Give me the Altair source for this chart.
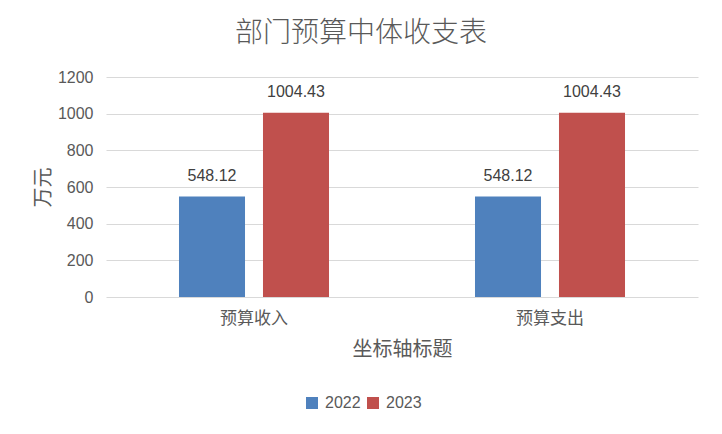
import altair as alt
import pandas as pd

categories = ["预算收入", "预算收入", "预算支出", "预算支出"]
years = ["2022", "2023", "2022", "2023"]
values = [548.12, 1004.43, 548.12, 1004.43]
labels = ["548.12", "1004.43", "548.12", "1004.43"]
y_ticks = [0, 200, 400, 600, 800, 1000, 1200]

df = pd.DataFrame({"cat": categories, "year": years, "value": values, "label": labels})

FONT = "Liberation Sans, Noto Sans CJK SC"
CJK = "Noto Sans CJK SC"
TXT = "#595959"

x_enc = alt.X("cat:N", sort=["预算收入", "预算支出"],
              scale=alt.Scale(paddingInner=0, paddingOuter=0),
              axis=alt.Axis(title="坐标轴标题", labelAngle=0, ticks=False, domain=False,
                            grid=False, labelFont=CJK, labelFontSize=17, labelColor=TXT,
                            labelPadding=13, titleFont=CJK, titleFontSize=20,
                            titleFontWeight="normal", titleColor=TXT, titleY=42,
                            titleBaseline="top"))
xoff = alt.XOffset("year:N", scale=alt.Scale(paddingInner=0.214, paddingOuter=0.869))

y_enc = alt.Y("value:Q", scale=alt.Scale(domain=[0, 1200]),
              axis=alt.Axis(title="万元", values=y_ticks, format="d", labelOverlap=False,
                            ticks=False, domain=False, gridColor="#D9D9D9", gridWidth=1,
                            labelFont=FONT, labelFontSize=16, labelColor=TXT, labelPadding=13,
                            titleFont=CJK, titleFontSize=20, titleFontWeight="normal",
                            titleColor=TXT, titleX=-63, titleY=110, titleBaseline="middle",
                            titleAlign="center"))

bars = alt.Chart(df).mark_bar().encode(
    x=x_enc,
    xOffset=xoff,
    y=y_enc,
    color=alt.Color("year:N", scale=alt.Scale(domain=["2022", "2023"], range=["#4F81BD", "#C0504D"]),
                    legend=alt.Legend(title=None, orient="none", direction="horizontal",
                                      legendX=198, legendY=318, symbolType="square",
                                      symbolSize=144, symbolStrokeWidth=0, labelFont=FONT,
                                      labelFontSize=16, labelColor=TXT, columnPadding=4,
                                      labelOffset=5)),
)

text = alt.Chart(df).mark_text(baseline="alphabetic", dy=-16, font=FONT, fontSize=16,
                               color="#404040").encode(
    x=x_enc,
    xOffset=xoff,
    y=y_enc,
    text="label:N",
)

chart = alt.layer(bars, text).properties(
    width=592, height=220,
    title=alt.TitleParams("部门预算中体收支表", font=CJK, fontSize=28, fontWeight=300,
                          color=TXT, anchor="middle", dx=-41, offset=21),
    padding={"left": 98, "top": 69, "right": 16, "bottom": 129},
    autosize=alt.AutoSizeParams(type="none"),
).configure_view(stroke=None)

chart.save("out.html", embed_options={"renderer": "svg", "actions": False})
